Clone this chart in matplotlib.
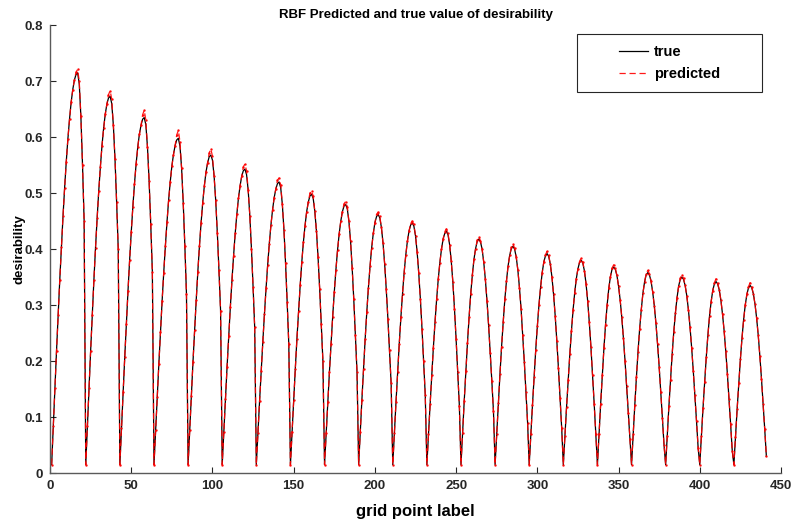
import matplotlib.pyplot as plt
from matplotlib.patches import Rectangle

plt.rcParams['font.family'] = ['Liberation Sans', 'DejaVu Sans']
plt.rcParams['font.weight'] = 'bold'

# true desirability, one row of the 21x21 grid per list
true_rows = [
    [0.015, 0.084, 0.152, 0.218, 0.283, 0.345, 0.404, 0.459, 0.510, 0.556, 0.597, 0.632, 0.662, 0.685, 0.702, 0.712, 0.715, 0.695, 0.637, 0.551, 0.450],
    [0.015, 0.084, 0.152, 0.218, 0.283, 0.344, 0.402, 0.455, 0.504, 0.547, 0.585, 0.616, 0.641, 0.659, 0.670, 0.673, 0.660, 0.621, 0.561, 0.484, 0.400],
    [0.015, 0.080, 0.144, 0.207, 0.267, 0.325, 0.380, 0.430, 0.476, 0.517, 0.552, 0.582, 0.605, 0.621, 0.632, 0.635, 0.622, 0.582, 0.522, 0.445, 0.360],
    [0.015, 0.076, 0.136, 0.195, 0.252, 0.307, 0.358, 0.405, 0.448, 0.487, 0.520, 0.548, 0.569, 0.585, 0.595, 0.598, 0.584, 0.545, 0.483, 0.406, 0.320],
    [0.015, 0.077, 0.138, 0.198, 0.255, 0.309, 0.360, 0.406, 0.447, 0.483, 0.513, 0.537, 0.554, 0.565, 0.568, 0.559, 0.531, 0.487, 0.429, 0.362, 0.290],
    [0.015, 0.074, 0.133, 0.190, 0.244, 0.296, 0.344, 0.388, 0.428, 0.462, 0.491, 0.513, 0.530, 0.540, 0.543, 0.533, 0.505, 0.460, 0.401, 0.333, 0.260],
    [0.015, 0.072, 0.128, 0.182, 0.234, 0.284, 0.330, 0.372, 0.410, 0.443, 0.470, 0.492, 0.507, 0.517, 0.520, 0.510, 0.481, 0.435, 0.375, 0.305, 0.230],
    [0.015, 0.073, 0.130, 0.186, 0.240, 0.289, 0.335, 0.377, 0.413, 0.442, 0.467, 0.484, 0.495, 0.498, 0.491, 0.468, 0.433, 0.386, 0.329, 0.266, 0.200],
    [0.015, 0.071, 0.126, 0.180, 0.231, 0.279, 0.323, 0.363, 0.398, 0.427, 0.450, 0.467, 0.477, 0.480, 0.472, 0.450, 0.415, 0.367, 0.310, 0.247, 0.180],
    [0.015, 0.074, 0.131, 0.186, 0.239, 0.287, 0.331, 0.369, 0.402, 0.428, 0.447, 0.458, 0.462, 0.456, 0.439, 0.411, 0.374, 0.328, 0.276, 0.219, 0.160],
    [0.015, 0.072, 0.127, 0.180, 0.231, 0.278, 0.320, 0.358, 0.389, 0.414, 0.432, 0.443, 0.447, 0.441, 0.424, 0.395, 0.357, 0.311, 0.258, 0.200, 0.140],
    [0.015, 0.070, 0.123, 0.175, 0.224, 0.269, 0.310, 0.346, 0.376, 0.400, 0.418, 0.428, 0.432, 0.426, 0.408, 0.379, 0.341, 0.293, 0.239, 0.181, 0.120],
    [0.015, 0.072, 0.129, 0.182, 0.233, 0.279, 0.320, 0.354, 0.382, 0.401, 0.414, 0.418, 0.413, 0.400, 0.377, 0.346, 0.308, 0.264, 0.215, 0.164, 0.110],
    [0.015, 0.070, 0.125, 0.177, 0.226, 0.270, 0.310, 0.343, 0.370, 0.389, 0.401, 0.405, 0.400, 0.386, 0.363, 0.331, 0.293, 0.247, 0.198, 0.145, 0.090],
    [0.015, 0.069, 0.121, 0.171, 0.219, 0.262, 0.300, 0.332, 0.358, 0.377, 0.388, 0.392, 0.387, 0.373, 0.350, 0.319, 0.281, 0.236, 0.187, 0.134, 0.080],
    [0.015, 0.067, 0.118, 0.166, 0.212, 0.254, 0.291, 0.322, 0.347, 0.365, 0.376, 0.380, 0.375, 0.361, 0.338, 0.307, 0.269, 0.225, 0.176, 0.124, 0.070],
    [0.015, 0.070, 0.124, 0.175, 0.223, 0.265, 0.301, 0.330, 0.351, 0.364, 0.368, 0.364, 0.353, 0.334, 0.309, 0.278, 0.241, 0.200, 0.155, 0.108, 0.060],
    [0.015, 0.069, 0.121, 0.171, 0.217, 0.258, 0.292, 0.321, 0.341, 0.354, 0.358, 0.354, 0.343, 0.324, 0.299, 0.268, 0.231, 0.190, 0.145, 0.098, 0.050],
    [0.015, 0.067, 0.119, 0.167, 0.212, 0.252, 0.286, 0.313, 0.334, 0.346, 0.350, 0.346, 0.335, 0.317, 0.292, 0.261, 0.224, 0.183, 0.139, 0.093, 0.045],
    [0.015, 0.066, 0.116, 0.163, 0.207, 0.246, 0.280, 0.306, 0.326, 0.338, 0.342, 0.338, 0.327, 0.309, 0.284, 0.254, 0.218, 0.177, 0.133, 0.087, 0.040],
    [0.015, 0.065, 0.114, 0.160, 0.203, 0.241, 0.274, 0.300, 0.319, 0.331, 0.335, 0.331, 0.320, 0.302, 0.277, 0.246, 0.209, 0.168, 0.124, 0.078, 0.030],
]

# predicted values differ from the true ones only around each peak
pred_fix = {
    0: {15: 0.716, 16: 0.721, 17: 0.700},
    1: {14: 0.676, 15: 0.683, 16: 0.668},
    2: {14: 0.640, 15: 0.648, 16: 0.630},
    3: {14: 0.604, 15: 0.612, 16: 0.592},
    4: {13: 0.572, 14: 0.579, 15: 0.566},
    5: {13: 0.547, 14: 0.552, 15: 0.540},
    6: {13: 0.523, 14: 0.527, 15: 0.515},
    7: {12: 0.500, 13: 0.504, 14: 0.495},
    8: {12: 0.481, 13: 0.485, 14: 0.476},
    9: {11: 0.462, 12: 0.466, 13: 0.459},
    10: {11: 0.446, 12: 0.450, 13: 0.444},
    11: {11: 0.431, 12: 0.436, 13: 0.429},
    12: {10: 0.416, 11: 0.422, 12: 0.415},
    13: {10: 0.403, 11: 0.409, 12: 0.402},
    14: {10: 0.390, 11: 0.396, 12: 0.389},
    15: {10: 0.378, 11: 0.384, 12: 0.377},
    16: {9: 0.366, 10: 0.372, 11: 0.366},
    17: {9: 0.356, 10: 0.362, 11: 0.356},
    18: {9: 0.348, 10: 0.354, 11: 0.348},
    19: {9: 0.340, 10: 0.347, 11: 0.340},
    20: {9: 0.333, 10: 0.340, 11: 0.333},
}

true_vals = [v for row in true_rows for v in row]
pred_rows = [list(row) for row in true_rows]
for r, fixes in pred_fix.items():
    for k, v in fixes.items():
        pred_rows[r][k] = v
pred_vals = [v for row in pred_rows for v in row]
grid_label = list(range(1, len(true_vals) + 1))

xticks = [0, 50, 100, 150, 200, 250, 300, 350, 400, 450]
yticks = [0, 0.1, 0.2, 0.3, 0.4, 0.5, 0.6, 0.7, 0.8]
ytick_labels = ['0', '0.1', '0.2', '0.3', '0.4', '0.5', '0.6', '0.7', '0.8']

fig = plt.figure(figsize=(7.94, 5.25), dpi=100)
ax = fig.add_axes([0.063, 0.099, 0.9206, 0.853])

ax.plot(grid_label, true_vals, color='black', linewidth=0.9, label='true')
ax.plot(grid_label, pred_vals, color='red', linestyle='--', dashes=(5, 3),
        linewidth=0.9, marker='.', markersize=1.5, alpha=0.9, label='predicted')

ax.set_xlim(0, 450)
ax.set_ylim(0, 0.8)
ax.set_xticks(xticks)
ax.set_yticks(yticks)
ax.set_yticklabels(ytick_labels)
ax.tick_params(direction='in', length=4, width=0.8, colors='#262626',
               labelsize=9.5, pad=5)
for s in ['top', 'right']:
    ax.spines[s].set_visible(False)
for s in ['left', 'bottom']:
    ax.spines[s].set_color('#5a5a5a')
    ax.spines[s].set_linewidth(1.0)

ax.set_title('RBF Predicted and true value of desirability', fontsize=9.5,
             fontweight='bold', pad=5)
ax.set_xlabel('grid point label', fontsize=12, fontweight='bold', labelpad=9)
ax.set_ylabel('desirability', fontsize=9.5, fontweight='bold', labelpad=-1)

leg = ax.legend(loc='center', bbox_to_anchor=(0.843, 0.88),
                bbox_transform=fig.transFigure, frameon=False, fontsize=10.5,
                handlelength=2.0, handletextpad=0.4, labelspacing=0.6)
for h in leg.get_lines():
    h.set_marker('')
fig.patches.append(Rectangle((577 / 794, 1 - 92 / 525), 185 / 794, 58 / 525,
                             transform=fig.transFigure, fill=False,
                             edgecolor='#262626', linewidth=0.8))

fig.savefig('out.png', dpi=100)
